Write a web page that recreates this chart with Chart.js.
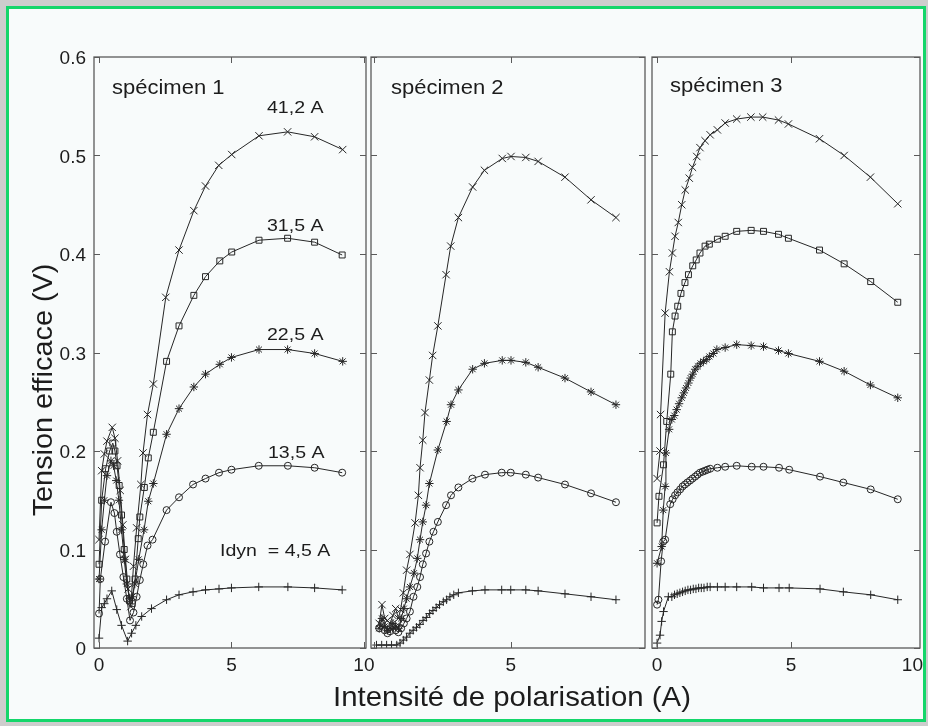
<!DOCTYPE html>
<html>
<head>
<meta charset="utf-8">
<script src="https://cdn.jsdelivr.net/npm/chart.js@4/dist/chart.umd.min.js"></script>
<style>
  html, body { margin: 0; padding: 0; background: #cdcdcd; }
  #page { position: relative; width: 928px; height: 726px; overflow: hidden; background: #cdcdcd; }
  #frame { position: absolute; left: 6px; top: 6px; width: 914px; height: 710px;
           border: 3px solid #14d66a; background: #f8fbfb; }
  canvas { position: absolute; left: 0; top: 0; }
</style>
</head>
<body>
<div id="page">
  <div id="frame"></div>
  <canvas id="c1" width="928" height="726"></canvas>
  <canvas id="c2" width="928" height="726"></canvas>
  <canvas id="c3" width="928" height="726"></canvas>
</div>
<script>
// ---- tick values ----
const xTickValues = [0, 5, 10];
const yTickValues = [0, 0.1, 0.2, 0.3, 0.4, 0.5, 0.6];

// ---- Idyn currents ----
const currentLabels = ['41,2 A', '31,5 A', '22,5 A', '13,5 A', 'Idyn  = 4,5 A'];
const specimenNames = ['spécimen 1', 'spécimen 2', 'spécimen 3'];

// ---- specimen 1 ----
const sp1_x412 = [0, 0.1, 0.2, 0.3, 0.5, 0.6, 0.7, 0.8, 0.9, 1.0, 1.1, 1.2, 1.3, 1.42, 1.58, 1.66, 1.83, 2.05, 2.52, 3.02, 3.58, 4.02, 4.52, 5.01, 6.04, 7.12, 8.14, 9.2];
const sp1_y412 = [0.11, 0.18, 0.197, 0.21, 0.224, 0.213, 0.19, 0.16, 0.125, 0.09, 0.06, 0.042, 0.083, 0.122, 0.166, 0.198, 0.237, 0.268, 0.356, 0.404, 0.444, 0.469, 0.490, 0.501, 0.520, 0.524, 0.519, 0.506];
const sp1_x315 = [0, 0.1, 0.25, 0.4, 0.52, 0.6, 0.68, 0.76, 0.85, 0.95, 1.05, 1.15, 1.25, 1.36, 1.48, 1.54, 1.71, 1.86, 2.05, 2.55, 3.02, 3.58, 4.02, 4.56, 5.01, 6.04, 7.12, 8.14, 9.18];
const sp1_y315 = [0.085, 0.15, 0.182, 0.2, 0.208, 0.2, 0.185, 0.165, 0.135, 0.1, 0.07, 0.048, 0.045, 0.07, 0.111, 0.133, 0.163, 0.193, 0.219, 0.291, 0.327, 0.358, 0.377, 0.393, 0.402, 0.414, 0.416, 0.412, 0.399];
const sp1_x225 = [0, 0.1, 0.2, 0.3, 0.45, 0.55, 0.65, 0.75, 0.85, 0.95, 1.05, 1.15, 1.25, 1.35, 1.5, 1.7, 1.86, 2.05, 2.55, 3.02, 3.58, 4.02, 4.56, 5.0, 6.04, 7.12, 8.14, 9.2];
const sp1_y225 = [0.07, 0.12, 0.15, 0.175, 0.19, 0.185, 0.17, 0.15, 0.12, 0.09, 0.065, 0.05, 0.052, 0.065, 0.09, 0.12, 0.149, 0.167, 0.217, 0.243, 0.265, 0.278, 0.288, 0.295, 0.303, 0.303, 0.299, 0.291];
const sp1_x135 = [0, 0.05, 0.23, 0.45, 0.58, 0.67, 0.79, 0.92, 1.05, 1.17, 1.3, 1.42, 1.54, 1.67, 1.83, 2.02, 2.55, 3.02, 3.55, 4.02, 4.53, 5.0, 6.03, 7.13, 8.14, 9.18];
const sp1_y135 = [0.035, 0.07, 0.108, 0.148, 0.137, 0.118, 0.095, 0.072, 0.05, 0.028, 0.036, 0.052, 0.069, 0.085, 0.104, 0.11, 0.14, 0.153, 0.166, 0.172, 0.178, 0.181, 0.185, 0.185, 0.183, 0.178];
const sp1_x45 = [0, 0.1, 0.2, 0.3, 0.48, 0.67, 0.85, 1.08, 1.23, 1.39, 1.61, 1.98, 2.55, 3.02, 3.55, 4.02, 4.53, 5.0, 6.03, 7.13, 8.14, 9.18];
const sp1_y45 = [0.01, 0.041, 0.045, 0.05, 0.058, 0.039, 0.023, 0.007, 0.015, 0.023, 0.032, 0.04, 0.049, 0.054, 0.057, 0.059, 0.06, 0.061, 0.062, 0.062, 0.061, 0.059];

// ---- specimen 2 ----
const sp2_x412 = [0.2, 0.3, 0.4, 0.5, 0.6, 0.7, 0.8, 0.9, 0.98, 1.08, 1.2, 1.32, 1.51, 1.63, 1.69, 1.79, 1.87, 2.03, 2.15, 2.34, 2.64, 2.81, 3.09, 3.61, 4.04, 4.69, 5.01, 5.55, 6.0, 6.98, 7.93, 8.84];
const sp2_y412 = [0.025, 0.044, 0.03, 0.028, 0.025, 0.033, 0.04, 0.03, 0.039, 0.056, 0.079, 0.095, 0.127, 0.155, 0.183, 0.211, 0.239, 0.272, 0.297, 0.327, 0.379, 0.408, 0.437, 0.468, 0.485, 0.497, 0.499, 0.498, 0.494, 0.478, 0.455, 0.437];
const sp2_x225 = [0.2, 0.3, 0.4, 0.5, 0.6, 0.7, 0.8, 0.9, 1.0, 1.1, 1.2, 1.32, 1.47, 1.59, 1.69, 1.79, 1.91, 2.03, 2.34, 2.66, 2.82, 3.09, 3.61, 4.04, 4.69, 5.01, 5.55, 6.0, 6.98, 7.93, 8.84];
const sp2_y225 = [0.02, 0.03, 0.022, 0.018, 0.02, 0.025, 0.022, 0.02, 0.03, 0.04, 0.05, 0.062, 0.076, 0.091, 0.11, 0.128, 0.145, 0.167, 0.201, 0.23, 0.247, 0.262, 0.283, 0.289, 0.292, 0.292, 0.29, 0.285, 0.274, 0.26, 0.247];
const sp2_x135 = [0.2, 0.3, 0.4, 0.5, 0.6, 0.7, 0.8, 0.9, 1.0, 1.1, 1.2, 1.32, 1.45, 1.59, 1.69, 1.79, 1.91, 2.03, 2.18, 2.34, 2.64, 2.82, 3.09, 3.6, 4.06, 4.67, 5.0, 5.55, 6.0, 6.98, 7.93, 8.84];
const sp2_y135 = [0.02, 0.025, 0.018, 0.015, 0.017, 0.022, 0.018, 0.016, 0.02, 0.025, 0.03, 0.037, 0.052, 0.062, 0.072, 0.085, 0.096, 0.108, 0.118, 0.128, 0.145, 0.155, 0.163, 0.172, 0.176, 0.178, 0.178, 0.176, 0.173, 0.166, 0.157, 0.148];
const sp2_x45 = [0.1, 0.29, 0.47, 0.65, 0.84, 0.96, 1.08, 1.2, 1.32, 1.44, 1.56, 1.68, 1.8, 1.92, 2.04, 2.16, 2.28, 2.4, 2.54, 2.66, 2.78, 2.92, 3.09, 3.6, 4.06, 4.67, 5.0, 5.55, 6.0, 6.98, 7.93, 8.84];
const sp2_y45 = [0.003, 0.003, 0.003, 0.003, 0.003, 0.005, 0.008, 0.011, 0.015, 0.018, 0.021, 0.024, 0.028, 0.031, 0.035, 0.038, 0.041, 0.044, 0.047, 0.049, 0.052, 0.054, 0.056, 0.058, 0.059, 0.059, 0.059, 0.059, 0.058, 0.055, 0.052, 0.049];

// ---- specimen 3 ----
const sp3_x412 = [0, 0.11, 0.13, 0.3, 0.46, 0.57, 0.67, 0.79, 0.92, 1.05, 1.2, 1.32, 1.48, 1.6, 1.79, 1.98, 2.25, 2.54, 2.97, 3.5, 3.94, 4.53, 4.9, 6.06, 6.98, 7.96, 8.98];
const sp3_y412 = [0.172, 0.2, 0.237, 0.34, 0.382, 0.401, 0.418, 0.432, 0.45, 0.465, 0.477, 0.488, 0.499, 0.508, 0.515, 0.521, 0.526, 0.533, 0.537, 0.539, 0.539, 0.536, 0.532, 0.517, 0.5, 0.478, 0.451];
const sp3_x315 = [0, 0.07, 0.24, 0.36, 0.51, 0.57, 0.67, 0.77, 0.89, 1.04, 1.17, 1.33, 1.46, 1.6, 1.79, 1.95, 2.25, 2.54, 2.97, 3.51, 3.97, 4.53, 4.9, 6.06, 6.98, 7.97, 8.98];
const sp3_y315 = [0.127, 0.154, 0.186, 0.23, 0.278, 0.321, 0.337, 0.347, 0.36, 0.371, 0.379, 0.388, 0.394, 0.401, 0.408, 0.41, 0.415, 0.418, 0.423, 0.424, 0.423, 0.42, 0.416, 0.404, 0.39, 0.372, 0.351];
const sp3_x225 = [0, 0.17, 0.23, 0.3, 0.33, 0.45, 0.55, 0.64, 0.73, 0.82, 0.92, 1.0, 1.08, 1.17, 1.25, 1.33, 1.42, 1.52, 1.62, 1.73, 1.85, 1.95, 2.1, 2.23, 2.54, 2.97, 3.51, 3.97, 4.53, 4.9, 6.06, 6.98, 7.96, 8.98];
const sp3_y225 = [0.086, 0.103, 0.14, 0.164, 0.198, 0.222, 0.232, 0.236, 0.242, 0.248, 0.254, 0.259, 0.264, 0.269, 0.274, 0.278, 0.283, 0.286, 0.289, 0.291, 0.293, 0.296, 0.299, 0.303, 0.305, 0.308, 0.307, 0.306, 0.302, 0.299, 0.291, 0.281, 0.267, 0.254];
const sp3_x135 = [0, 0.05, 0.15, 0.23, 0.3, 0.49, 0.58, 0.67, 0.76, 0.86, 0.95, 1.04, 1.13, 1.23, 1.32, 1.42, 1.51, 1.6, 1.7, 1.79, 1.88, 1.98, 2.25, 2.54, 2.97, 3.53, 3.97, 4.55, 4.93, 6.08, 6.95, 7.97, 8.98];
const sp3_y135 = [0.044, 0.049, 0.088, 0.108, 0.11, 0.146, 0.151, 0.155, 0.158, 0.161, 0.164, 0.166, 0.168, 0.17, 0.172, 0.174, 0.176, 0.178, 0.179, 0.18, 0.181, 0.182, 0.183, 0.184, 0.185, 0.184, 0.184, 0.183, 0.181, 0.174, 0.168, 0.161, 0.151];
const sp3_x45 = [0, 0.11, 0.17, 0.24, 0.42, 0.55, 0.65, 0.75, 0.85, 0.95, 1.05, 1.15, 1.25, 1.35, 1.45, 1.55, 1.65, 1.75, 1.87, 1.98, 2.25, 2.54, 2.97, 3.53, 3.97, 4.55, 4.93, 6.08, 6.95, 7.97, 8.98];
const sp3_y45 = [0.005, 0.013, 0.027, 0.037, 0.052, 0.052, 0.054, 0.055, 0.056, 0.057, 0.058, 0.059, 0.059, 0.06, 0.06, 0.061, 0.061, 0.061, 0.062, 0.062, 0.062, 0.062, 0.062, 0.062, 0.061, 0.061, 0.061, 0.06, 0.057, 0.054, 0.049];

// ---- drawing helpers ----
const INK = '#262626';
const FONT = '"Liberation Sans", Arial, Helvetica, sans-serif';

function pts(xs, ys) { return xs.map((x, i) => ({ x: x, y: ys[i] })); }

const markerStyles = {
  '41,2': { pointStyle: 'crossRot', pointRadius: 5.2 },
  '31,5': { pointStyle: 'rect', pointRadius: 4.2 },
  '22,5': { pointStyle: 'star', pointRadius: 4.2 },
  '13,5': { pointStyle: 'circle', pointRadius: 3.5 },
  '4,5':  { pointStyle: 'cross', pointRadius: 4.2 }
};

function series(key, xs, ys) {
  const m = markerStyles[key];
  return {
    label: key + ' A',
    data: pts(xs, ys),
    showLine: true,
    borderColor: INK,
    borderWidth: 1,
    tension: 0,
    fill: false,
    pointStyle: m.pointStyle,
    pointRadius: m.pointRadius,
    pointHoverRadius: m.pointRadius,
    pointBorderColor: INK,
    pointBackgroundColor: 'rgba(0,0,0,0)',
    pointBorderWidth: 1
  };
}

function text(ctx, str, x, y, size, align, sx) {
  ctx.save();
  ctx.font = size + 'px ' + FONT;
  ctx.fillStyle = '#1c1c1c';
  ctx.textAlign = align;
  ctx.textBaseline = 'alphabetic';
  ctx.translate(x, y);
  ctx.scale(sx, 1);
  ctx.fillText(str, 0, 0);
  ctx.restore();
}

// Box frame, inward ticks on all four sides, tick labels and annotations
const framePlugin = {
  id: 'frame',
  afterDraw(chart, args, opts) {
    const ctx = chart.ctx;
    const a = chart.chartArea;
    const xs = chart.scales.x, ys = chart.scales.y;
    const TL = 6;
    ctx.save();
    ctx.strokeStyle = '#5a5a5a';
    ctx.lineWidth = 1.3;
    ctx.strokeRect(a.left, a.top, a.right - a.left, a.bottom - a.top);
    ctx.lineWidth = 1;
    ctx.beginPath();
    yTickValues.forEach(v => {
      const py = Math.round(ys.getPixelForValue(v)) + 0.5;
      ctx.moveTo(a.left, py); ctx.lineTo(a.left + TL, py);
      ctx.moveTo(a.right, py); ctx.lineTo(a.right - TL, py);
    });
    xTickValues.forEach(v => {
      if (v < xs.min || v > xs.max) return;
      const px = Math.round(xs.getPixelForValue(v)) + 0.5;
      ctx.moveTo(px, a.bottom); ctx.lineTo(px, a.bottom - TL);
      ctx.moveTo(px, a.top); ctx.lineTo(px, a.top + TL);
    });
    ctx.stroke();
    ctx.restore();

    // y tick labels
    if (opts.yLabels) {
      yTickValues.forEach(v => {
        const py = ys.getPixelForValue(v);
        text(ctx, v === 0 ? '0' : v.toFixed(1), a.left - 8, py + 7, 19, 'right', 1);
      });
    }
    // x tick labels
    opts.xLabels.forEach(v => {
      let px = xs.getPixelForValue(v);
      let align = 'center';
      if (px > a.right) { px = a.right + 3; align = 'right'; }
      text(ctx, String(v), px, a.bottom + 23, 19, align, 1);
    });
    // annotations
    (opts.notes || []).forEach(n => text(ctx, n.t, n.x, n.y, n.size, 'left', n.sx));

    // axis titles
    if (opts.axisTitles) {
      text(ctx, 'Intensité de polarisation (A)', 512, 706, 28, 'center', 1.05);
      ctx.save();
      ctx.translate(52, 390);
      ctx.rotate(-Math.PI / 2);
      text(ctx, 'Tension efficace (V)', 0, 0, 28, 'center', 1.03);
      ctx.restore();
    }
  }
};

function makePanel(id, box, xMin, xMax, datasets, frameOpts) {
  return new Chart(document.getElementById(id), {
    type: 'scatter',
    data: { datasets: datasets },
    options: {
      responsive: false,
      animation: false,
      events: [],
      layout: { padding: { left: box.l, top: box.t, right: 928 - box.r, bottom: 726 - box.b } },
      plugins: { legend: { display: false }, tooltip: { enabled: false }, frame: frameOpts },
      scales: {
        x: { type: 'linear', min: xMin, max: xMax, display: false },
        y: { type: 'linear', min: 0, max: 0.6, display: false }
      }
    },
    plugins: [framePlugin]
  });
}

makePanel('c1', { l: 94, r: 366, t: 57, b: 648 }, -0.19, 10.08, [
  series('41,2', sp1_x412, sp1_y412),
  series('31,5', sp1_x315, sp1_y315),
  series('22,5', sp1_x225, sp1_y225),
  series('13,5', sp1_x135, sp1_y135),
  series('4,5', sp1_x45, sp1_y45)
], {
  yLabels: true,
  xLabels: [0, 5, 10],
  axisTitles: true,
  notes: [
    { t: specimenNames[0], x: 112, y: 94, size: 20, sx: 1.1 },
    { t: currentLabels[0], x: 267, y: 113, size: 17, sx: 1.15 },
    { t: currentLabels[1], x: 267, y: 231, size: 17, sx: 1.15 },
    { t: currentLabels[2], x: 267, y: 340, size: 17, sx: 1.15 },
    { t: currentLabels[3], x: 268, y: 458, size: 17, sx: 1.15 },
    { t: currentLabels[4], x: 220, y: 556, size: 17, sx: 1.15 }
  ]
});

makePanel('c2', { l: 371, r: 645, t: 57, b: 648 }, -0.1, 9.9, [
  series('41,2', sp2_x412, sp2_y412),
  series('22,5', sp2_x225, sp2_y225),
  series('13,5', sp2_x135, sp2_y135),
  series('4,5', sp2_x45, sp2_y45)
], {
  yLabels: false,
  xLabels: [5],
  notes: [{ t: specimenNames[1], x: 391, y: 94, size: 20, sx: 1.1 }]
});

makePanel('c3', { l: 652, r: 920, t: 57, b: 648 }, -0.19, 9.81, [
  series('41,2', sp3_x412, sp3_y412),
  series('31,5', sp3_x315, sp3_y315),
  series('22,5', sp3_x225, sp3_y225),
  series('13,5', sp3_x135, sp3_y135),
  series('4,5', sp3_x45, sp3_y45)
], {
  yLabels: false,
  xLabels: [0, 5, 10],
  notes: [{ t: specimenNames[2], x: 670, y: 92, size: 20, sx: 1.1 }]
});
</script>
</body>
</html>
